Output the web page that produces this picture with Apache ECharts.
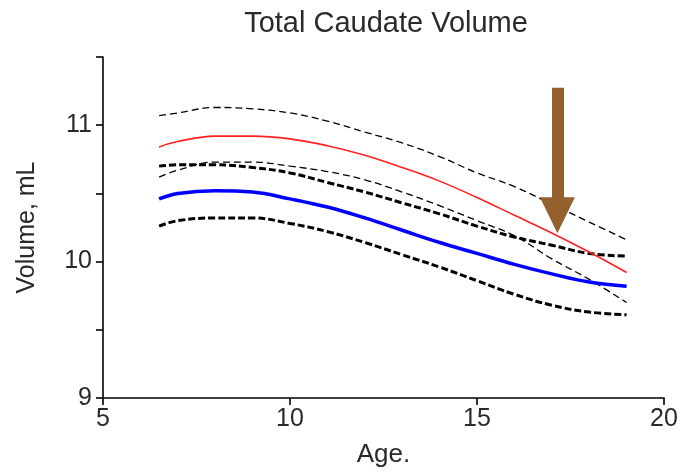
<!DOCTYPE html>
<html>
<head>
<meta charset="utf-8">
<script src="https://cdn.jsdelivr.net/npm/echarts@6/dist/echarts.min.js"></script>
<style>
  html, body { margin: 0; padding: 0; background: #fff; }
  #main { width: 681px; height: 473px; }
</style>
</head>
<body>
<div id="main"></div>
<script>
// ages (x) shared by all curves
var ages = [6.5, 7, 8, 9, 10, 11, 12, 13, 14, 15, 16, 17, 18, 19];

// curves (mL)
var upperThin = [11.07, 11.09, 11.13, 11.12, 11.09, 11.03, 10.95, 10.87, 10.77, 10.65, 10.55, 10.42, 10.29, 10.16];
var redLine   = [10.84, 10.88, 10.92, 10.92, 10.90, 10.85, 10.78, 10.69, 10.59, 10.47, 10.34, 10.21, 10.07, 9.92];
var midThin   = [10.62, 10.67, 10.73, 10.73, 10.70, 10.66, 10.60, 10.51, 10.41, 10.30, 10.19, 10.02, 9.87, 9.70];
var upperBold = [10.70, 10.71, 10.71, 10.69, 10.65, 10.58, 10.51, 10.43, 10.35, 10.26, 10.18, 10.12, 10.06, 10.04];
var blueLine  = [10.46, 10.50, 10.52, 10.51, 10.46, 10.40, 10.32, 10.23, 10.14, 10.06, 9.98, 9.91, 9.85, 9.82];
var lowerBold = [10.26, 10.30, 10.32, 10.32, 10.28, 10.22, 10.14, 10.05, 9.96, 9.86, 9.76, 9.68, 9.63, 9.61];

// arrow: x, top of shaft, centre of head
var arrowX = 17.15, arrowTop = 11.275, arrowHead = 10.34;

function pairs(ys) {
    return ages.map(function (a, i) { return [a, ys[i]]; });
}

var font = 'Liberation Sans';
var myChart = echarts.init(document.getElementById('main'));

function curve(ys, color, width, dash) {
    return {
        type: 'line',
        data: pairs(ys),
        smooth: 0.4,
        showSymbol: false,
        silent: true,
        lineStyle: {color: color, width: width, type: dash || 'solid'}
    };
}

var option = {
    animation: false,
    title: {
        text: 'Total Caudate Volume',
        left: 381, top: 4, textAlign: 'center',
        textStyle: {fontFamily: font, fontSize: 29, fontWeight: 'normal', color: '#2a2a2a'}
    },
    grid: {left: 103, right: 17, top: 57, bottom: 72},
    xAxis: {
        type: 'value', min: 5, max: 20, interval: 5,
        name: 'Age.', nameLocation: 'middle', nameGap: 44,
        nameTextStyle: {fontFamily: font, fontSize: 26, color: '#2a2a2a'},
        axisLine: {lineStyle: {color: '#000', width: 1.6}},
        axisTick: {length: 7, lineStyle: {color: '#000', width: 1.6}},
        axisLabel: {fontFamily: font, fontSize: 25, color: '#2a2a2a', margin: 9},
        splitLine: {show: false}
    },
    yAxis: {
        type: 'value', min: 9, max: 11.5, interval: 0.5,
        name: 'Volume, mL', nameLocation: 'middle', nameGap: 63,
        nameTextStyle: {fontFamily: font, fontSize: 25, color: '#2a2a2a'},
        axisLine: {show: true, lineStyle: {color: '#000', width: 1.6}},
        axisTick: {show: true, length: 7, lineStyle: {color: '#000', width: 1.6}},
        axisLabel: {
            fontFamily: font, fontSize: 25, color: '#2a2a2a', margin: 11,
            formatter: function (v) { return v % 1 === 0 ? String(v) : ''; }
        },
        splitLine: {show: false}
    },
    series: [
        curve(upperThin, '#000', 1.3, [7, 4]),
        curve(midThin, '#000', 1.3, [7, 4]),
        curve(upperBold, '#000', 3, [7, 3]),
        curve(lowerBold, '#000', 3, [7, 3]),
        curve(redLine, '#ff2020', 1.6),
        curve(blueLine, '#0000ff', 3.5),
        {
            type: 'line',
            data: [],
            z: 5,
            markLine: {
                silent: true,
                symbol: ['none', 'triangle'],
                symbolSize: [35, 36],
                label: {show: false},
                lineStyle: {color: '#93602e', width: 12, type: 'solid'},
                emphasis: {disabled: true},
                data: [[{coord: [arrowX, arrowTop]}, {coord: [arrowX, arrowHead]}]]
            }
        }
    ]
};

myChart.setOption(option);
</script>
</body>
</html>
